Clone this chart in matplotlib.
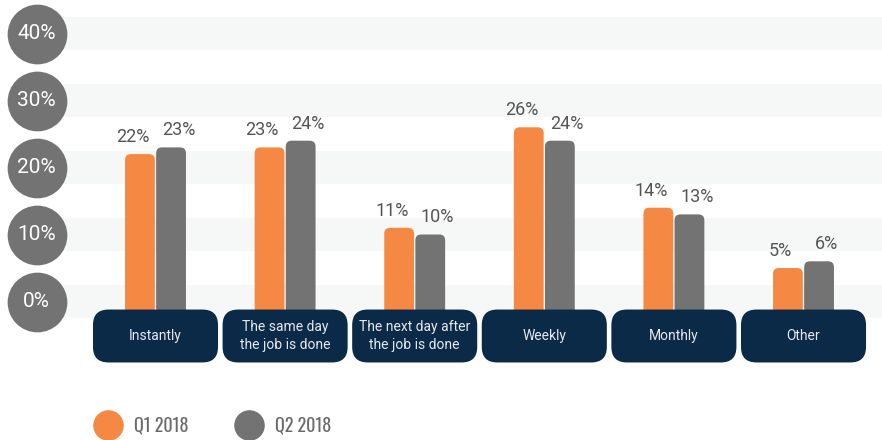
import matplotlib
matplotlib.use('Agg')
import matplotlib.pyplot as plt
from matplotlib.patches import FancyBboxPatch, Rectangle
import numpy as np

categories = ['Instantly', 'The same day\nthe job is done', 'The next day after\nthe job is done',
              'Weekly', 'Monthly', 'Other']
q1_2018 = [22, 23, 11, 26, 14, 5]
q2_2018 = [23, 24, 10, 24, 13, 6]
series_names = ['Q1 2018', 'Q2 2018']
y_ticks = [0, 10, 20, 30, 40]

orange = '#F58842'
grey = '#737373'
navy = '#0B2A47'
band = '#F6F8F8'

plt.rcParams['font.family'] = ['Roboto', 'DejaVu Sans']

fig = plt.figure(figsize=(8.82, 4.4), dpi=100)
ax = fig.add_axes([0, 0, 1, 1])
ax.set_axis_off()

# pixel scale: one category = 129.6 px, one percent = 6.7 px
px_x = 129.6
px_y = 6.7
ax.set_xlim(-155.5 / px_x, (882 - 155.5) / px_x)
ax.set_ylim((301.5 - 440) / px_y, 301.5 / px_y)
aspect = px_x / px_y

x = np.arange(len(categories))
bar_w = 0.23
gap = 0.005

# light bands behind each gridline
for t in y_ticks:
    ax.add_patch(Rectangle((-0.92, t - 2.5), 10, 5, color=band, lw=0, zorder=0))

# bars with rounded tops
for vals, col, side in [(q1_2018, orange, -1), (q2_2018, grey, 1)]:
    for xi, v in zip(x, vals):
        left = xi + side * (bar_w / 2 + gap) - bar_w / 2
        ax.add_patch(FancyBboxPatch((left, -3), bar_w, v + 3,
                                    boxstyle='round,pad=0,rounding_size=0.045',
                                    mutation_aspect=aspect, fc=col, ec='none', zorder=2))
        ax.text(xi + side * (bar_w / 2 + 0.062), v + 1.8, f'{v}%', ha='center', va='baseline',
                fontsize=13, color='#555555', zorder=4)

# category boxes
box_w = 0.965
for xi, label in zip(x, categories):
    ax.add_patch(FancyBboxPatch((xi - box_w / 2, -9.1), box_w, 7.9,
                                boxstyle='round,pad=0,rounding_size=0.12',
                                mutation_aspect=aspect, fc=navy, ec='none', zorder=3))
    ax.text(xi, -5.15, label, ha='center', va='center', fontsize=10, color='#E4E9EF',
            linespacing=1.35, zorder=4)

# y axis labels in circles
y_x = (36.5 - 155.5) / px_x
ax.plot([y_x] * len(y_ticks), y_ticks, 'o', ms=43, color=grey, mec='none', zorder=5, clip_on=False)
for t in y_ticks:
    ax.text(y_x, t, f'{t}%', ha='center', va='center', fontsize=15, color='white', zorder=6)

# legend
for i, (name, col) in enumerate(zip(series_names, [orange, grey])):
    cx = 1.08 + i * 1.41
    ax.plot([cx], [0.15], 'o', ms=22, color=col, mec='none', transform=fig.dpi_scale_trans,
            clip_on=False)
    fig.text(cx + 0.26, 0.15, name, transform=fig.dpi_scale_trans, ha='left', va='center',
             fontsize=13, fontweight=600, color='#6B6B6B',
             family=['Oswald', 'DejaVu Sans'])

fig.savefig('out.png', dpi=100)
